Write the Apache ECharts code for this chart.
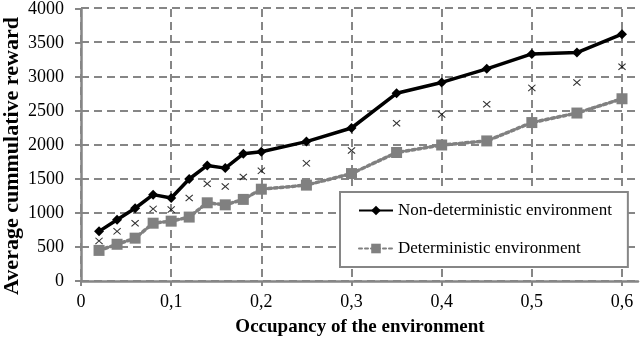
<!DOCTYPE html>
<html>
<head>
<meta charset="utf-8">
<script src="https://cdn.jsdelivr.net/npm/echarts@6/dist/echarts.min.js"></script>
<style>
  html, body { margin: 0; padding: 0; background: #fff; }
  #chart { width: 640px; height: 340px; }
</style>
</head>
<body>
<div id="chart"></div>
<script>
// 数据
let occupancy = [0.02, 0.04, 0.06, 0.08, 0.1, 0.12, 0.14, 0.16, 0.18, 0.2, 0.25, 0.3, 0.35, 0.4, 0.45, 0.5, 0.55, 0.6];
let nonDeterministic = [730, 900, 1070, 1270, 1220, 1500, 1700, 1660, 1870, 1900, 2050, 2250, 2760, 2920, 3120, 3340, 3360, 3630];
let deterministic = [450, 540, 630, 850, 880, 940, 1150, 1120, 1200, 1350, 1410, 1580, 1890, 2000, 2060, 2330, 2470, 2680];
let crossMarks = [590, 730, 850, 1060, 1050, 1220, 1430, 1390, 1530, 1620, 1730, 1920, 2320, 2450, 2600, 2840, 2920, 3150];
let yTicks = { min: 0, max: 4000, step: 500 };
let xTicks = { min: 0, max: 0.6, step: 0.1 };
let legendNames = ['Non-deterministic environment', 'Deterministic environment'];
let xTitle = 'Occupancy of the environment';
let yTitle = 'Average cummulative reward';

function pairs(ys) {
    return occupancy.map((x, i) => [x, ys[i]]);
}

let gridGray = '#868686';
let serif = "'Liberation Serif', 'Times New Roman', serif";
let xMark = 'path://M0,1L1,0L5,4L9,0L10,1L6,5L10,9L9,10L5,6L1,10L0,9L4,5Z';

let myChart = echarts.init(document.getElementById('chart'));

let option = {
    animation: false,
    backgroundColor: '#fff',
    textStyle: { fontFamily: serif },
    grid: [
        // 背景网格（横向虚线延伸到右边）
        { left: 81, right: 2, top: 8, bottom: 59 },
        // 数据网格
        { left: 81, right: 18, top: 8, bottom: 59 }
    ],
    // 坐标轴标题
    graphic: [{
        type: 'text',
        x: 360,
        y: 327,
        style: {
            text: xTitle, fill: '#000', align: 'center', verticalAlign: 'middle',
            font: "bold 19px 'Liberation Serif', serif"
        }
    }, {
        type: 'text',
        x: 12,
        y: 156,
        rotation: Math.PI / 2,
        style: {
            text: yTitle, fill: '#000', align: 'center', verticalAlign: 'middle',
            font: "bold 22px 'Liberation Serif', serif"
        }
    }],
    legend: {
        data: legendNames,
        orient: 'vertical',
        left: 340,
        top: 192,
        padding: [10, 16, 10, 18],
        itemWidth: 34,
        itemHeight: 12,
        itemGap: 21,
        borderColor: gridGray,
        borderWidth: 2,
        backgroundColor: '#fff',
        textStyle: { fontFamily: serif, fontSize: 17, color: '#000' }
    },
    xAxis: [{
        gridIndex: 0,
        type: 'value',
        min: 0,
        max: 1,
        axisLine: { show: true, lineStyle: { color: gridGray, width: 2.5 } },
        axisTick: { show: false },
        axisLabel: { show: false },
        splitLine: { show: false }
    }, {
        gridIndex: 1,
        type: 'value',
        min: xTicks.min,
        max: xTicks.max,
        interval: xTicks.step,
        axisLine: { show: false },
        axisTick: { show: true, length: 5, lineStyle: { color: gridGray, width: 2 } },
        axisLabel: {
            margin: 12,
            fontFamily: serif,
            fontSize: 18,
            color: '#000',
            formatter: function (v) {
                return v === 0 ? '0' : v.toFixed(1).replace('.', ',');
            }
        },
        splitLine: { show: true, lineStyle: { color: gridGray, width: 2, type: [8, 5] } }
    }],
    yAxis: [{
        gridIndex: 0,
        type: 'value',
        min: yTicks.min,
        max: yTicks.max,
        interval: yTicks.step,
        axisLine: { show: false },
        axisTick: { show: false },
        axisLabel: { show: false },
        splitLine: { show: true, lineStyle: { color: gridGray, width: 2, type: [8, 5] } }
    }, {
        gridIndex: 1,
        type: 'value',
        min: yTicks.min,
        max: yTicks.max,
        interval: yTicks.step,
        axisLine: { show: true, lineStyle: { color: gridGray, width: 2.5 } },
        axisTick: { show: true, length: 6, lineStyle: { color: gridGray, width: 2 } },
        axisLabel: {
            margin: 17, fontFamily: serif, fontSize: 18, color: '#000',
            formatter: function (v) { return String(v); }
        },
        splitLine: { show: false }
    }],
    series: [{
        name: legendNames[0],
        type: 'line',
        xAxisIndex: 1,
        yAxisIndex: 1,
        data: pairs(nonDeterministic),
        symbol: 'diamond',
        symbolSize: 10,
        itemStyle: { color: '#000' },
        lineStyle: { color: '#000', width: 3.5 },
        z: 4
    }, {
        name: legendNames[1],
        type: 'line',
        xAxisIndex: 1,
        yAxisIndex: 1,
        data: pairs(deterministic),
        symbol: 'rect',
        symbolSize: 11,
        itemStyle: { color: '#808080' },
        lineStyle: { color: '#808080', width: 3.5, type: [3, 3], cap: 'round' },
        z: 3
    }, {
        name: 'marks',
        type: 'scatter',
        xAxisIndex: 1,
        yAxisIndex: 1,
        data: pairs(crossMarks),
        symbol: xMark,
        symbolSize: [8, 7],
        itemStyle: { color: '#000' },
        z: 5
    }]
};

myChart.setOption(option);
</script>
</body>
</html>
